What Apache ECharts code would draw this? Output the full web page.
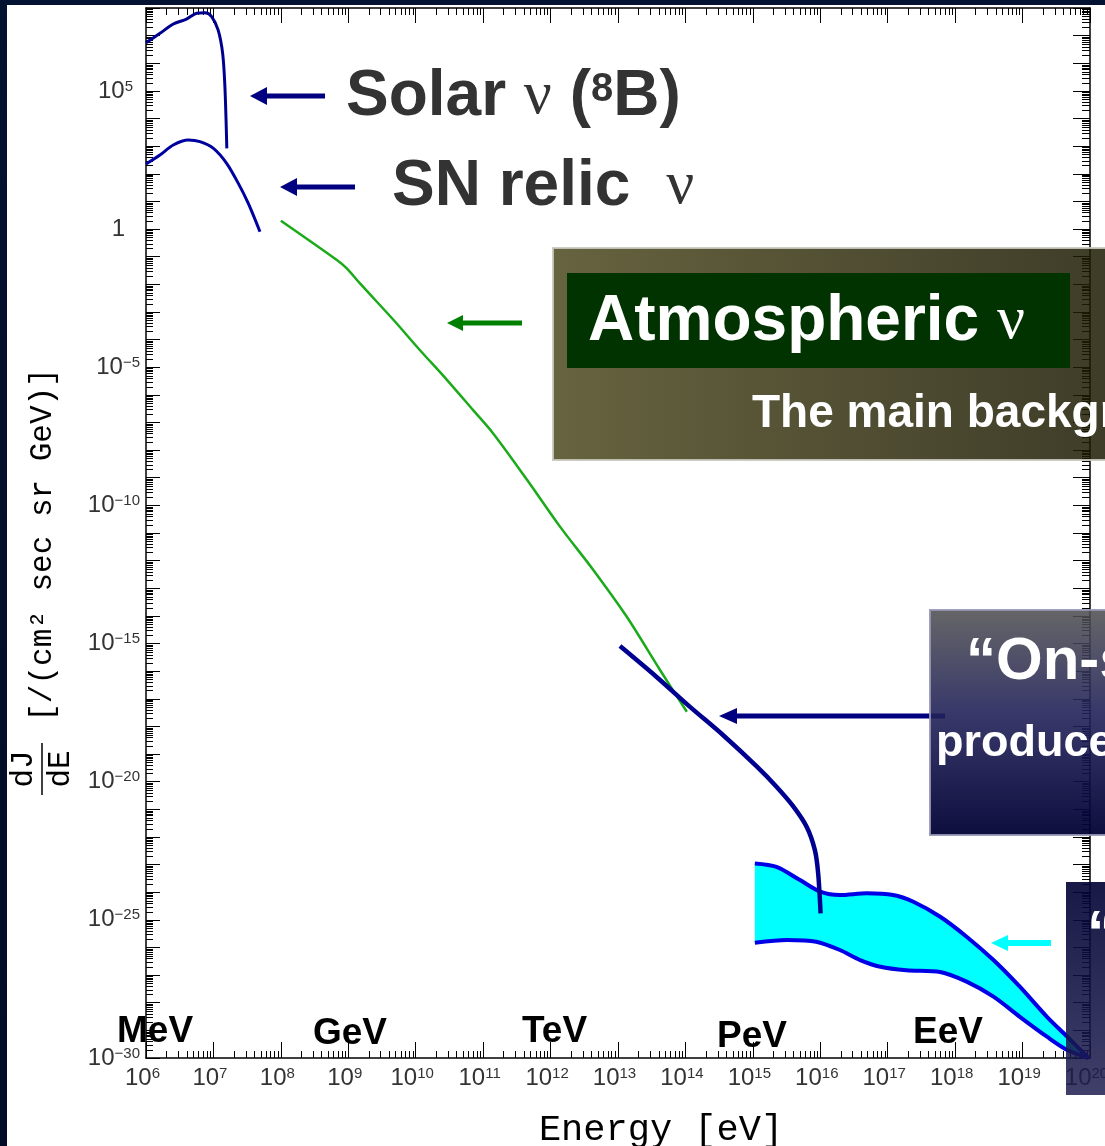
<!DOCTYPE html>
<html><head><meta charset="utf-8">
<script src="https://cdn.jsdelivr.net/npm/echarts@6/dist/echarts.min.js"></script>
<style>html,body{margin:0;padding:0;background:#fff}#c{width:1105px;height:1146px}</style>
</head><body><div id="c"></div>
<script>
// ---- axis ranges / tick labels (powers of ten) ----
const X_MIN_EXP = 6, X_MAX_EXP = 20, Y_MIN_EXP = -30, Y_MAX_EXP = 8;
const xTickExponents = [6,7,8,9,10,11,12,13,14,15,16,17,18,19,20];
const yLabelExponents = [-30,-25,-20,-15,-10,-5,0,5];
const minorFactors = [2,3,4,5,6,7,8,9];
const energyUnits = ['MeV','GeV','TeV','PeV','EeV'];

// ---- series values: energy [eV] and flux dJ/dE [/(cm2 sec sr GeV)] ----
const solarEnergy = [1.0e6, 1.61e6, 2.54e6, 3.98e6, 5.62e6, 7.5e6, 9.4e6, 1.175e7, 1.37e7, 1.48e7, 1.58e7];
const solarFlux   = [5.5e6, 1.21e7, 2.63e7, 3.98e7, 6.46e7, 6.76e7, 4.9e7, 1.58e7, 2.29e6, 1.41e5, 832];

const snEnergy = [1.0e6, 1.61e6, 2.54e6, 4.24e6, 6.3e6, 1.0e7, 1.57e7, 2.34e7, 3.29e7, 4.9e7];
const snFlux   = [226, 479, 1100, 1660, 1450, 832, 240, 45, 8.5, 0.8];

const atmEnergy = [1.0e8, 6.76e8, 9.5e8, 1.48e9, 4.7e9, 1.15e10, 2.9e10, 7.1e10, 1.4e11, 4.5e11, 1.38e12, 4.3e12, 1.35e13, 4.2e13, 1.05e14];
const atmFlux   = [2.0, 0.076, 0.038, 0.011, 5.1e-4, 4.2e-5, 3.5e-6, 2.8e-7, 4.1e-8, 8.3e-10, 1.7e-11, 4.6e-13, 9.3e-15, 1.1e-16, 3.4e-18];

const onSourceEnergy = [1.07e13, 3.7e13, 1.17e14, 3.6e14, 1.15e15, 2.24e15, 4.0e15, 6.3e15, 8.3e15, 9.3e15, 1.01e16];
const onSourceFlux   = [8.1e-16, 6.3e-17, 5.1e-18, 4.9e-19, 3.5e-20, 6.6e-21, 1.26e-21, 2.3e-22, 3.4e-23, 4.8e-24, 1.7e-25];

const cosmoUpperEnergy = [1.07e15, 2.24e15, 5.0e15, 1.0e16, 1.95e16, 4.9e16, 1.2e17, 2.4e17, 6.0e17, 1.48e18, 3.7e18, 9.1e18, 2.3e19, 4.6e19, 9.5e19];
const cosmoUpperFlux   = [1.1e-23, 8.3e-24, 2.75e-24, 1.05e-24, 7.9e-25, 9.1e-25, 7.9e-25, 4.5e-25, 1.29e-25, 2.45e-26, 3.5e-27, 3.8e-28, 3.1e-29, 5.9e-30, 1.0e-30];
const cosmoLowerEnergy = [1.07e15, 3.2e15, 8.7e15, 1.95e16, 3.9e16, 7.8e16, 1.9e17, 6.0e17, 1.48e18, 3.7e18, 9.1e18, 2.3e19, 4.6e19, 9.5e19];
const cosmoLowerFlux   = [1.48e-26, 1.86e-26, 1.62e-26, 8.1e-27, 3.5e-27, 2.0e-27, 1.5e-27, 1.3e-27, 5.8e-28, 1.66e-28, 3.1e-29, 5.9e-30, 1.95e-30, 1.0e-30];

// ---- build log-space pairs for the value axes ----
const toLog = (E, F) => E.map((e, i) => [Math.log10(e), Math.log10(F[i])]);
const solarData = toLog(solarEnergy, solarFlux);
const snData = toLog(snEnergy, snFlux);
const atmData = toLog(atmEnergy, atmFlux);
const onSourceData = toLog(onSourceEnergy, onSourceFlux);
const cosmoUpper = toLog(cosmoUpperEnergy, cosmoUpperFlux);
const cosmoLower = toLog(cosmoLowerEnergy, cosmoLowerFlux);

const minorTickData = [];
for (let e = X_MIN_EXP; e < X_MAX_EXP; e++) for (const f of minorFactors) minorTickData.push([e + Math.log10(f), Y_MIN_EXP, 0]);
for (let e = Y_MIN_EXP; e < Y_MAX_EXP; e++) for (const f of minorFactors) minorTickData.push([X_MIN_EXP, e + Math.log10(f), 1]);

const FONT = 'Liberation Sans';
const MONO = 'Liberation Mono';
const tickRich = {
  b: {fontSize: 24, lineHeight: 24, fontFamily: FONT, color: '#333'},
  bp: {fontSize: 24, lineHeight: 24, fontFamily: FONT, color: '#333', padding: [0, 15, 0, 0]},
  s: {fontSize: 15, lineHeight: 10, verticalAlign: 'top', fontFamily: FONT, color: '#333'},
  sp: {fontSize: 15, lineHeight: 10, verticalAlign: 'top', fontFamily: FONT, color: '#333', padding: [0, 7, 0, 0]}
};
function supLabel(v) {
  if (v === 0) return '{bp|1}';
  const t = v < 0 ? '\u2212' + Math.abs(v) : String(v);
  return '{b|10}{' + (v > 0 ? 'sp' : 's') + '|' + t + '}';
}

function renderMinorTick(params, api) {
  const cs = params.coordSys;
  const kind = api.value(2);
  const p = api.coord([api.value(0), api.value(1)]);
  const style = {stroke: '#000', lineWidth: 1};
  if (kind === 0) {
    const x = Math.round(p[0]) + 0.5;
    const yb = cs.y + cs.height, yt = cs.y;
    return {type: 'group', children: [
      {type: 'line', shape: {x1: x, y1: yb, x2: x, y2: yb - 7}, style},
      {type: 'line', shape: {x1: x, y1: yt, x2: x, y2: yt + 7}, style}
    ]};
  }
  const y = Math.round(p[1]) + 0.5;
  const xl = cs.x, xr = cs.x + cs.width;
  return {type: 'group', children: [
    {type: 'line', shape: {x1: xl, y1: y, x2: xl + 7, y2: y}, style},
    {type: 'line', shape: {x1: xr, y1: y, x2: xr - 8, y2: y}, style}
  ]};
}

function renderBand(params, api) {
  const pts = cosmoUpper.map(p => api.coord(p)).concat(cosmoLower.slice().reverse().map(p => api.coord(p)));
  return {type: 'polygon', shape: {points: pts}, style: {fill: '#00ffff'}};
}

function arrow(tipX, y, backX, tailX, halfH, thick, color) {
  return {type: 'group', z: 20, children: [
    {type: 'rect', shape: {x: backX - 1, y: y - thick / 2, width: tailX - backX + 1, height: thick}, style: {fill: color}},
    {type: 'polygon', shape: {points: [[tipX, y], [backX, y - halfH], [backX, y + halfH]]}, style: {fill: color}}
  ]};
}
function label(x, y, rich, text, align) {
  return {type: 'text', x, y, z: 30, style: {text, rich, align: align || 'left', verticalAlign: 'middle'}};
}

const bigRich = {
  a: {fontSize: 64, fontWeight: 'bold', fontFamily: FONT, fill: '#333', lineHeight: 70},
  n: {fontSize: 62, fontFamily: 'Liberation Serif', fill: '#333', lineHeight: 70},
  nn: {fontSize: 62, fontFamily: 'Liberation Serif', fill: '#333', lineHeight: 70, padding: [0, 0, 0, 18]},
  p: {fontSize: 40, fontWeight: 'bold', fontFamily: FONT, fill: '#333', lineHeight: 52, verticalAlign: 'top', padding: [8, 0, 0, 0]}
};
const whiteRich = {
  a: {fontSize: 64, fontWeight: 'bold', fontFamily: FONT, fill: '#fff', lineHeight: 70},
  n: {fontSize: 62, fontFamily: 'Liberation Serif', fill: '#fff', lineHeight: 70},
  m: {fontSize: 46, fontWeight: 'bold', fontFamily: FONT, fill: '#fff'},
  o: {fontSize: 60, fontWeight: 'bold', fontFamily: FONT, fill: '#fff'},
  q: {fontSize: 45, fontWeight: 'bold', fontFamily: FONT, fill: '#fff'}
};
const unitRich = {u: {fontSize: 37, fontWeight: 'bold', fontFamily: FONT, fill: '#000'}};
const unitPos = [[117, 1032], [313, 1034], [522, 1032], [717, 1037], [913, 1033]];

const graphics = [
  // dark frame strips
  {type: 'rect', z: 1, shape: {x: 0, y: 0, width: 7, height: 1146}, style: {fill: new echarts.graphic.LinearGradient(0, 0, 0, 1, [{offset: 0, color: '#031230'}, {offset: 1, color: '#020c26'}])}},
  {type: 'rect', z: 1, shape: {x: 0, y: 0, width: 1105, height: 5}, style: {fill: '#031230'}},
  // y axis title (rotated)
  {type: 'text', x: 24, y: 769, rotation: Math.PI / 2, z: 5, style: {text: 'dJ', fontFamily: MONO, fontSize: 31, fill: '#000', align: 'center', verticalAlign: 'middle'}},
  {type: 'line', z: 5, shape: {x1: 42, y1: 743, x2: 42, y2: 795}, style: {stroke: '#000', lineWidth: 1.5}},
  {type: 'text', x: 61, y: 769, rotation: Math.PI / 2, z: 5, style: {text: 'dE', fontFamily: MONO, fontSize: 31, fill: '#000', align: 'center', verticalAlign: 'middle'}},
  {type: 'text', x: 43, y: 545, rotation: Math.PI / 2, z: 5, style: {text: '[/(cm\u00b2 sec sr GeV)]', fontFamily: MONO, fontSize: 31, fill: '#000', align: 'center', verticalAlign: 'middle'}},
  // x axis title
  {type: 'text', x: 661, y: 1130, z: 5, style: {text: 'Energy [eV]', fontFamily: MONO, fontSize: 37, fill: '#000', align: 'center', verticalAlign: 'middle'}},
  // energy unit markers
  ...energyUnits.map((u, i) => label(unitPos[i][0], unitPos[i][1], unitRich, '{u|' + u + '}')),
  // solar & SN labels + arrows
  label(346, 97, bigRich, '{a|Solar }{n|\u03bd}{a| (}{p|8}{a|B)}'),
  arrow(250, 96, 267, 325, 9, 5, '#000080'),
  label(392, 187, bigRich, '{a|SN relic }{nn|\u03bd}'),
  arrow(280, 187, 297, 355, 9, 5, '#000080'),
  // atmospheric box
  {type: 'rect', z: 25, shape: {x: 553, y: 248, width: 560, height: 212}, style: {
    fill: new echarts.graphic.LinearGradient(0, 0, 1, 0, [{offset: 0, color: 'rgba(76,72,30,0.85)'}, {offset: 1, color: 'rgba(28,26,2,0.85)'}]),
    stroke: 'rgba(200,200,190,0.9)', lineWidth: 2}},
  {type: 'rect', z: 26, shape: {x: 567, y: 273, width: 503, height: 95}, style: {fill: '#003300'}},
  label(588, 322, whiteRich, '{a|Atmospheric }{n|\u03bd}'),
  label(752, 414, whiteRich, '{m|The main background}'),
  arrow(447, 323, 463, 522, 8, 5, '#008000'),
  // on-source box
  {type: 'rect', z: 25, shape: {x: 930, y: 610, width: 190, height: 225}, style: {
    fill: new echarts.graphic.LinearGradient(0, 0, 0, 1, [{offset: 0, color: 'rgba(80,80,82,0.88)'}, {offset: 0.45, color: 'rgba(35,35,90,0.9)'}, {offset: 1, color: 'rgba(0,0,52,0.95)'}]),
    stroke: 'rgba(150,150,180,0.9)', lineWidth: 2}},
  label(966, 662, whiteRich, '{o|\u201cOn-source\u201d}'),
  label(936, 744, whiteRich, '{q|produced}'),
  arrow(719, 716, 737, 945, 8, 5, '#000080'),
  // cosmogenic box (bottom right)
  {type: 'rect', z: 25, shape: {x: 1066, y: 882, width: 60, height: 213}, style: {
    fill: new echarts.graphic.LinearGradient(0, 0, 0, 1, [{offset: 0, color: 'rgba(5,5,55,0.92)'}, {offset: 1, color: 'rgba(30,30,80,0.85)'}])}},
  label(1087, 935, whiteRich, '{o|\u201c}'),
  arrow(991, 943, 1008, 1051, 8, 6, '#00ffff')
];

const axisLineStyle = {color: '#000', width: 1.5};
const option = {
  animation: false,
  backgroundColor: '#fff',
  grid: {left: 146, top: 8, right: 15, bottom: 88, containLabel: false, outerBoundsMode: 'none'},
  xAxis: [
    {type: 'value', min: X_MIN_EXP, max: X_MAX_EXP, interval: 1, position: 'bottom',
      axisLine: {onZero: false, lineStyle: axisLineStyle}, splitLine: {show: false},
      axisTick: {inside: true, length: 16, lineStyle: {color: '#000', width: 1}},
      axisLabel: {margin: 8, formatter: v => xTickExponents.includes(v) ? supLabel(v) : '', rich: tickRich}},
    {type: 'value', min: X_MIN_EXP, max: X_MAX_EXP, interval: 1, position: 'top',
      axisLine: {onZero: false, lineStyle: axisLineStyle}, splitLine: {show: false},
      axisTick: {inside: true, length: 15, lineStyle: {color: '#000', width: 1}},
      axisLabel: {show: false}}
  ],
  yAxis: [
    {type: 'value', min: Y_MIN_EXP, max: Y_MAX_EXP, interval: 1, position: 'left',
      axisLine: {onZero: false, lineStyle: axisLineStyle}, splitLine: {show: false},
      axisTick: {inside: true, length: 14, lineStyle: {color: '#000', width: 1}},
      axisLabel: {margin: 6, formatter: v => yLabelExponents.includes(v) ? supLabel(v) : '', rich: tickRich}},
    {type: 'value', min: Y_MIN_EXP, max: Y_MAX_EXP, interval: 1, position: 'right',
      axisLine: {onZero: false, lineStyle: axisLineStyle}, splitLine: {show: false},
      axisTick: {inside: true, length: 17, lineStyle: {color: '#000', width: 1}},
      axisLabel: {show: false}}
  ],
  series: [
    {name: 'minor ticks', type: 'custom', renderItem: renderMinorTick, data: minorTickData, encode: {x: 0, y: 1}, clip: false, z: 3, silent: true},
    {name: 'Cosmogenic band', type: 'custom', renderItem: renderBand, data: [cosmoUpper[0]], z: 2, silent: true},
    {name: 'Cosmogenic upper', type: 'line', data: cosmoUpper, smooth: 0.3, symbol: 'none', lineStyle: {color: '#0000e6', width: 4}, z: 4},
    {name: 'Cosmogenic lower', type: 'line', data: cosmoLower, smooth: 0.3, symbol: 'none', lineStyle: {color: '#0000e6', width: 4}, z: 4},
    {name: 'Solar', type: 'line', data: solarData, smooth: 0.3, symbol: 'none', lineStyle: {color: '#00008f', width: 3}, z: 5},
    {name: 'SN relic', type: 'line', data: snData, smooth: 0.3, symbol: 'none', lineStyle: {color: '#0000a0', width: 3}, z: 5},
    {name: 'Atmospheric', type: 'line', data: atmData, smooth: 0.3, symbol: 'none', lineStyle: {color: '#1aaa1a', width: 2.5}, z: 5},
    {name: 'On-source', type: 'line', data: onSourceData, smooth: 0.3, symbol: 'none', lineStyle: {color: '#000090', width: 4.5}, z: 6}
  ],
  graphic: graphics
};
const chart = echarts.init(document.getElementById('c'));
chart.setOption(option);
</script>
</body></html>
